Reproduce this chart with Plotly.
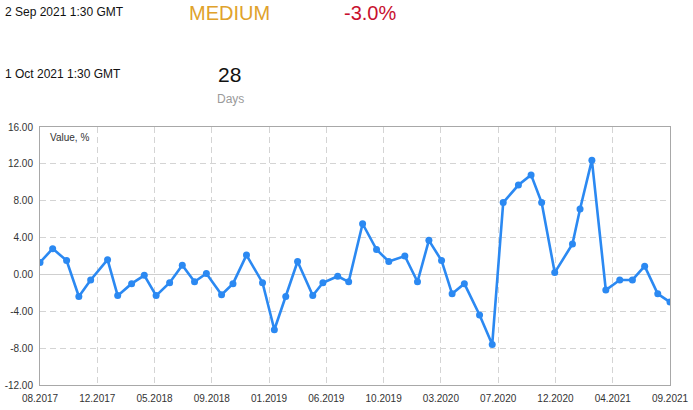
import plotly.graph_objects as go
import pandas as pd

# ---------------- data ----------------
release_dates = [
    "2017-08-02", "2017-09-01", "2017-10-04", "2017-11-02", "2017-11-30",
    "2018-01-09", "2018-02-02", "2018-03-07", "2018-04-06", "2018-05-04",
    "2018-06-05", "2018-07-05", "2018-08-03", "2018-08-31", "2018-10-06",
    "2018-11-02", "2018-12-04", "2019-01-11", "2019-02-08", "2019-03-07",
    "2019-04-04", "2019-05-10", "2019-06-03", "2019-07-08", "2019-08-03",
    "2019-09-05", "2019-10-08", "2019-11-06", "2019-12-14", "2020-01-13",
    "2020-02-09", "2020-03-10", "2020-04-04", "2020-05-03", "2020-06-08",
    "2020-07-08", "2020-08-03", "2020-09-08", "2020-10-08", "2020-11-02",
    "2020-12-03", "2021-01-14", "2021-02-01", "2021-03-01", "2021-04-03",
    "2021-05-06", "2021-06-05", "2021-07-04", "2021-08-04", "2021-09-02",
]
values = [
    1.3, 2.8, 1.5, -2.4, -0.6, 1.6, -2.3, -1.0, -0.1, -2.3,
    -0.9, 1.0, -0.8, 0.1, -2.2, -1.0, 2.1, -0.9, -6.0, -2.4,
    1.4, -2.3, -0.9, -0.2, -0.8, 5.5, 2.7, 1.4, 2.0, -0.8,
    3.7, 1.5, -2.1, -1.0, -4.4, -7.6, 7.8, 9.7, 10.8, 7.8,
    0.2, 3.3, 7.1, 12.4, -1.7, -0.6, -0.6, 0.9, -2.1, -3.0,
]
x_tick_labels = ["08.2017", "12.2017", "05.2018", "09.2018", "01.2019", "06.2019",
                 "10.2019", "03.2020", "07.2020", "12.2020", "04.2021", "09.2021"]
y_ticks = [-12, -8, -4, 0, 4, 8, 12, 16]

last_release = "2 Sep 2021 1:30 GMT"
next_release = "1 Oct 2021 1:30 GMT"
importance = "MEDIUM"
days_left = "28"
days_label = "Days"
axis_title = "Value, %"

# ---------------- layout helpers ----------------
W, H = 693, 410
PL, PR, PT, PB = 40, 670, 127, 385   # plot-area edges in pixels
L, T = PL, PT
R, B = W - PR, H - PB
PW, PH = PR - PL, PB - PT


def px(x):  # pixel -> paper coord
    return (x - PL) / PW


def py(y):
    return (PB - y) / PH


BLUE = "#2B89F2"
FONT = "Liberation Sans"

x_dates = pd.to_datetime(release_dates)
tickvals = pd.date_range(x_dates[0], x_dates[-1], periods=len(x_tick_labels))

fig = go.Figure(
    go.Scatter(
        x=x_dates,
        y=values,
        mode="lines+markers",
        line=dict(color=BLUE, width=2.6),
        marker=dict(size=7, color=BLUE),
        hoverinfo="skip",
    )
)

common_axis = dict(
    showgrid=True,
    gridcolor="#d4d4d4",
    gridwidth=1,
    griddash="6px,4px",
    showline=True,
    linecolor="#a8a8a8",
    linewidth=1,
    mirror=True,
    ticks="",
    automargin=False,
    ticklabelstandoff=4,
    tickfont=dict(family=FONT, size=10, color="#333333"),
)

fig.update_xaxes(
    type="date",
    range=[x_dates[0], x_dates[-1]],
    tickmode="array",
    tickvals=tickvals,
    ticktext=x_tick_labels,
    zeroline=False,
    **common_axis,
)
fig.update_yaxes(
    range=[y_ticks[0], y_ticks[-1]],
    tickmode="array",
    tickvals=y_ticks,
    ticktext=[f"{v:.2f}" for v in y_ticks],
    zeroline=True,
    zerolinecolor="#cfcfcf",
    zerolinewidth=1,
    **common_axis,
)

ann = []
ann.append(dict(text=last_release, x=px(3), y=py(12), xanchor="left", yanchor="middle",
                font=dict(family=FONT, size=12, color="#111111")))
ann.append(dict(text=importance, x=px(229.5), y=py(12.5), xanchor="center", yanchor="middle",
                font=dict(family=FONT, size=20, color="#E0A22B")))
ann.append(dict(text=f"{values[-1]:.1f}%", x=px(370), y=py(12.5), xanchor="center", yanchor="middle",
                font=dict(family=FONT, size=20, color="#C8102E")))
ann.append(dict(text=next_release, x=px(3), y=py(74), xanchor="left", yanchor="middle",
                font=dict(family=FONT, size=12, color="#111111")))
ann.append(dict(text=days_left, x=px(229), y=py(74), xanchor="center", yanchor="middle",
                font=dict(family=FONT, size=21, color="#111111")))
ann.append(dict(text=days_label, x=px(230), y=py(99), xanchor="center", yanchor="middle",
                font=dict(family=FONT, size=12, color="#9a9a9a")))
ann.append(dict(text=axis_title, x=px(48), y=py(137), xanchor="left", yanchor="middle",
                font=dict(family=FONT, size=10, color="#333333")))
for a in ann:
    a.update(xref="paper", yref="paper", showarrow=False)

fig.update_layout(
    width=W,
    height=H,
    margin=dict(l=L, r=R, t=T, b=B, pad=0, autoexpand=False),
    paper_bgcolor="white",
    plot_bgcolor="white",
    showlegend=False,
    annotations=ann,
)

fig.write_html(
    "out.html",
    config={"displayModeBar": False},
    post_script="document.body.style.margin='0';document.body.style.overflow='hidden';",
)
